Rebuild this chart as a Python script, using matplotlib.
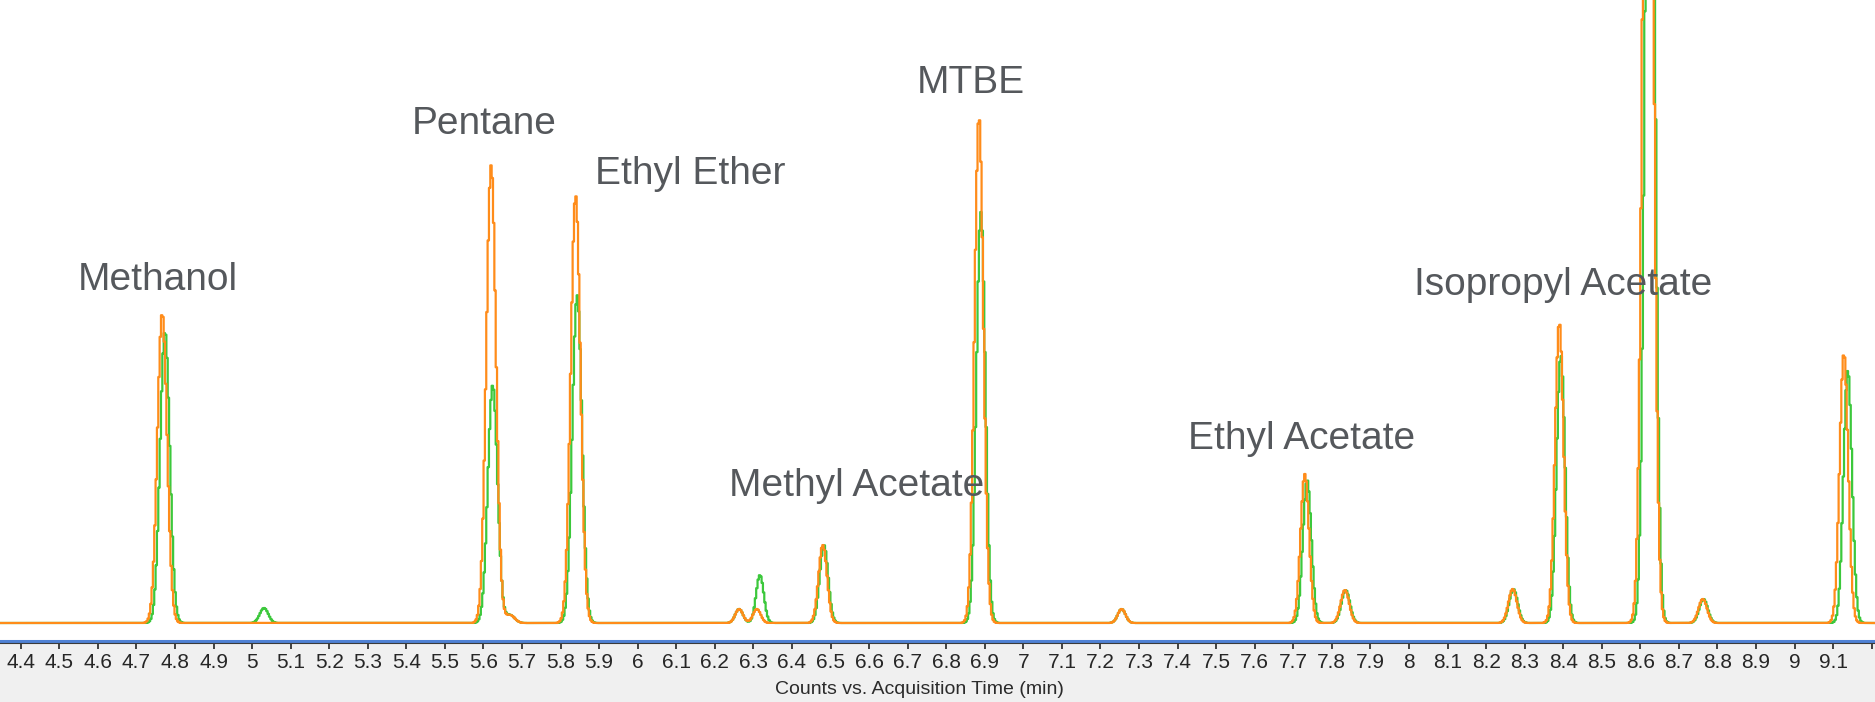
import numpy as np
import matplotlib
matplotlib.use('Agg')
import matplotlib.pyplot as plt
from matplotlib.lines import Line2D

# peak tables for the two overlaid runs: retention time (min), height (counts), width sigma (min)
orange_rt = [4.767, 5.620, 5.669, 5.839, 6.263, 6.309, 6.480, 6.885, 7.255, 7.730, 7.834, 8.269, 8.390, 8.620, 8.762, 9.128]
orange_h = [310, 458, 8, 428, 14, 14, 78, 507, 14, 149, 33, 34, 301, 1240, 24, 270]
orange_w = [0.0125, 0.0125, 0.012, 0.0125, 0.010, 0.010, 0.011, 0.0115, 0.010, 0.011, 0.011, 0.011, 0.011, 0.0125, 0.011, 0.011]

green_rt = [4.774, 5.031, 5.624, 5.669, 5.843, 6.263, 6.317, 6.483, 6.890, 7.255, 7.736, 7.836, 8.271, 8.394, 8.625, 8.764, 9.138]
green_h = [292, 15, 238, 8, 328, 14, 48, 78, 411, 14, 143, 33, 34, 268, 1100, 24, 253]
green_w = [0.0125, 0.011, 0.0125, 0.012, 0.0125, 0.010, 0.010, 0.011, 0.0115, 0.010, 0.011, 0.011, 0.011, 0.011, 0.012, 0.011, 0.011]

compounds = ['Methanol', 'Pentane', 'Ethyl Ether', 'MTBE', 'Methyl Acetate', 'Ethyl Acetate', 'Isopropyl Acetate']
label_x = [4.548, 5.413, 5.888, 6.724, 6.236, 7.426, 8.012]
label_y = [333, 489, 439, 530, 127, 174, 328]

tick_vals = np.round(np.arange(44, 93) / 10.0, 1)

t = np.arange(4.30, 9.25, 0.0035)


def trace(rts, hs, ws):
    y = np.zeros_like(t)
    for rt, h, w in zip(rts, hs, ws):
        y += h * np.exp(-0.5 * ((t - rt) / w) ** 2)
    return y


fig = plt.figure(figsize=(18.75, 7.02), dpi=100, facecolor='#f0f0f0')
ax = fig.add_axes([0, 61 / 702, 1, 641 / 702])
ax.set_facecolor('white')

ax.plot(t, trace(green_rt, green_h, green_w), color='#3cc83c', lw=1.6, drawstyle='steps-mid')
ax.plot(t, trace(orange_rt, orange_h, orange_w), color='#ff8c1a', lw=1.6, drawstyle='steps-mid')

for name, lx, ly in zip(compounds, label_x, label_y):
    ax.text(lx, ly, name, fontsize=28, color='#55585c', family=['Liberation Sans', 'DejaVu Sans'],
            ha='left', va='baseline')

ax.set_xlim(4.3463, 9.2086)
ax.set_ylim(-18, 623)

for s in ['top', 'left', 'right']:
    ax.spines[s].set_visible(False)
ax.spines['bottom'].set_color('#4f81d4')
ax.spines['bottom'].set_linewidth(2.2)
fig.add_artist(Line2D([0, 1], [59 / 702, 59 / 702], transform=fig.transFigure, color='#3a3a3a', lw=0.8))

ax.set_yticks([])
ax.set_xticks(tick_vals)
ax.set_xticklabels(['%g' % v for v in tick_vals[:-1]] + [''])
ax.tick_params(axis='x', direction='out', length=6, width=1.3, color='#333333', pad=3,
               labelsize=15, labelcolor='#262626')
for lab in ax.get_xticklabels():
    lab.set_family(['Liberation Sans', 'DejaVu Sans'])

fig.text(919.5 / 1875, (702 - 689) / 702, 'Counts vs. Acquisition Time (min)', fontsize=14,
         color='#2b2b2b', family=['Liberation Sans', 'DejaVu Sans'], ha='center', va='center')

fig.savefig('out.png', dpi=100, facecolor=fig.get_facecolor())
